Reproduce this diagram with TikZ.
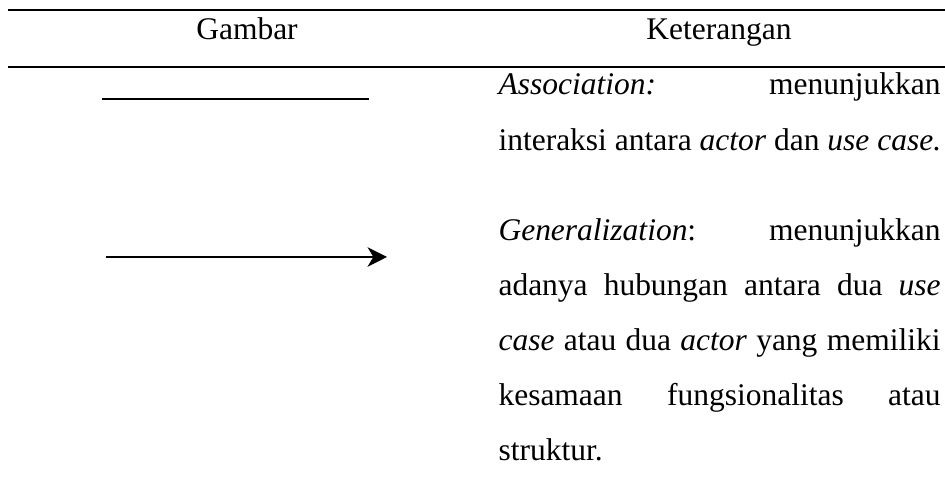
\documentclass[tikz,border=0pt]{standalone}
\usepackage{fontspec}
\setmainfont{Liberation Serif}
\usetikzlibrary{arrows.meta}
\begin{document}
\begin{tikzpicture}[x=0.381pt,y=-0.381pt,
  rule/.style={line width=0.76pt,line cap=butt},
  symline/.style={line width=0.65pt},
  txt/.style={inner sep=0pt,anchor=base west,font=\fontsize{12}{14}\selectfont},
  head/.style={inner sep=0pt,anchor=base,font=\fontsize{12}{14}\selectfont}]
\useasboundingbox (0,0) rectangle (945,485);
\newcommand{\colw}{168.4pt}
% table rules
\coordinate (t1) at (8,10);  \coordinate (t2) at (945,10);
\coordinate (m1) at (8,67);  \coordinate (m2) at (945,67);
\draw[rule] (t1) -- (t2);
\draw[rule] (m1) -- (m2);
% header
\node[head] (hg) at (247,40) {Gambar};
\node[head] (hk) at (719,40) {Keterangan};
% association symbol
\coordinate (a1) at (102,99); \coordinate (a2) at (369,99);
\draw[symline] (a1) -- (a2);
% generalization symbol
\coordinate (g1) at (106,257); \coordinate (g2) at (387,257);
\draw[symline,-{Stealth[length=7.4pt,width=7.4pt,inset=2.2pt]}] (g1) -- (g2);
% descriptions
\node[txt] (l1) at (498,95) {\makebox[\colw][s]{\textit{Association:} menunjukkan}};
\node[txt] (l2) at (498,150.5) {interaksi antara \textit{actor} dan \textit{use case.}};
\node[txt] (l3) at (498,241) {\makebox[\colw][s]{\textit{Generalization}: menunjukkan}};
\node[txt] (l4) at (498,296) {\makebox[\colw][s]{adanya hubungan antara dua \textit{use}}};
\node[txt] (l5) at (498,351) {\makebox[\colw][s]{\textit{case} atau dua \textit{actor} yang memiliki}};
\node[txt] (l6) at (498,406) {\makebox[\colw][s]{kesamaan fungsionalitas atau}};
\node[txt] (l7) at (498,461) {struktur.};
\end{tikzpicture}
\end{document}
